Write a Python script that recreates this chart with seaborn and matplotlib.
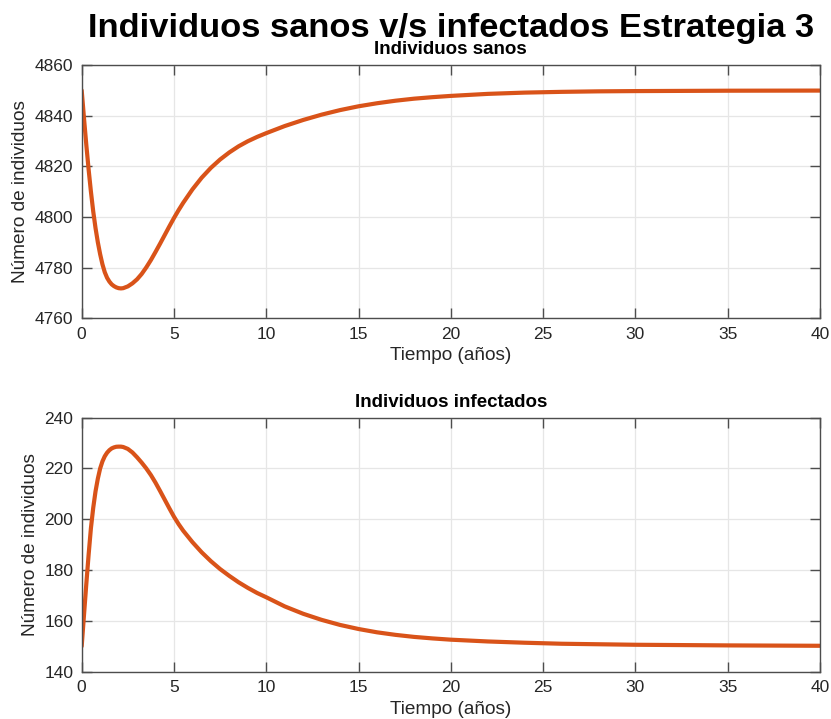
import matplotlib
matplotlib.use("Agg")
import matplotlib.pyplot as plt
import seaborn as sns
import pandas as pd

# ---- data ----
tiempo = [0, 0.125, 0.25, 0.375, 0.5, 0.625, 0.75, 0.875, 1.0, 1.125, 1.25, 1.375,
          1.5, 1.625, 1.75, 1.875, 2.0, 2.125, 2.25, 2.5, 2.75, 3.0, 3.25, 3.5,
          3.75, 4.0, 4.25, 4.5, 4.75, 5.0, 5.25, 5.5, 6.0, 6.5, 7.0, 7.5, 8.0,
          8.5, 9.0, 9.5, 10, 11, 12, 13, 14, 15, 16, 17, 18, 19, 20,
          22, 24, 26, 28, 30, 35, 40]
sanos = [4850, 4839, 4828.5, 4818.8, 4810, 4802.2, 4795.6, 4790, 4785.3, 4781.3,
         4778.2, 4776.0, 4774.5, 4773.4, 4772.7, 4772.2, 4771.9, 4771.8, 4771.9,
         4772.6, 4773.8, 4775.4, 4777.5, 4780.1, 4783.0, 4786.2, 4789.5, 4792.9,
         4796.3, 4799.6, 4802.7, 4805.6, 4810.9, 4815.5, 4819.4, 4822.7, 4825.5,
         4827.9, 4829.9, 4831.6, 4833.1, 4835.9, 4838.3, 4840.4, 4842.2, 4843.7,
         4844.9, 4845.9, 4846.7, 4847.3, 4847.8, 4848.6, 4849.1, 4849.4, 4849.6,
         4849.7, 4849.85, 4849.9]
infectados = [150, 162.3, 174.5, 186, 196.5, 204.5, 211, 216, 220, 222.8, 224.8,
              226.2, 227.2, 227.9, 228.3, 228.55, 228.6, 228.6, 228.45, 227.7,
              226.3, 224.4, 222.3, 220.0, 217.4, 214.4, 211.1, 207.7, 204.3, 201.0,
              198.1, 195.5, 191.0, 187.0, 183.5, 180.4, 177.7, 175.2, 173.0, 171.0,
              169.3, 165.7, 162.8, 160.4, 158.4, 156.8, 155.5, 154.5, 153.7, 153.1,
              152.6, 151.9, 151.4, 151.0, 150.8, 150.6, 150.35, 150.2]

titulo = "Individuos sanos v/s infectados Estrategia 3"
titulos = ["Individuos sanos", "Individuos infectados"]
xlabel = "Tiempo (años)"
ylabel = "Número de individuos"
xticks = [0, 5, 10, 15, 20, 25, 30, 35, 40]
yticks_sanos = [4760, 4780, 4800, 4820, 4840, 4860]
yticks_inf = [140, 160, 180, 200, 220, 240]

color = "#D95319"
dark = "#262626"

sns.set_theme(style="whitegrid")
plt.rcParams["font.family"] = ["Liberation Sans", "DejaVu Sans"]

fig = plt.figure(figsize=(8.31, 7.19), dpi=100)
ax1 = fig.add_axes([0.0983, 0.5573, 0.8885, 0.3523])
ax2 = fig.add_axes([0.0983, 0.0658, 0.8885, 0.3533])

df1 = pd.DataFrame({"t": tiempo, "v": sanos})
df2 = pd.DataFrame({"t": tiempo, "v": infectados})

panels = [(ax1, df1, yticks_sanos, titulos[0]), (ax2, df2, yticks_inf, titulos[1])]
for ax, df, yt, tt in panels:
    sns.lineplot(data=df, x="t", y="v", ax=ax, color=color, linewidth=3.0)
    ax.set_xlim(0, 40)
    ax.set_ylim(yt[0], yt[-1])
    ax.set_xticks(xticks)
    ax.set_yticks(yt)
    ax.set_facecolor("white")
    ax.grid(True, color="#e6e6e6", linewidth=0.9)
    for s in ax.spines.values():
        s.set_visible(True)
        s.set_color("#4d4d4d")
        s.set_linewidth(1.0)
    ax.tick_params(direction="in", length=7, width=1.0, color="#4d4d4d",
                   top=True, right=True, bottom=True, left=True,
                   labelsize=12.5, labelcolor=dark, pad=6)
    ax.set_xlabel(xlabel, fontsize=13.7, color=dark, labelpad=4)
    ax.set_ylabel(ylabel, fontsize=13.7, color=dark, labelpad=4)
    ax.set_title(tt, fontsize=13.5, fontweight="bold", color="black", pad=8)

fig.text(0.5427, 1 - 37.5 / 719, titulo, ha="center", va="baseline",
         fontsize=24.8, fontweight="bold", color="black")

fig.savefig("out.png", dpi=100, facecolor="white")
